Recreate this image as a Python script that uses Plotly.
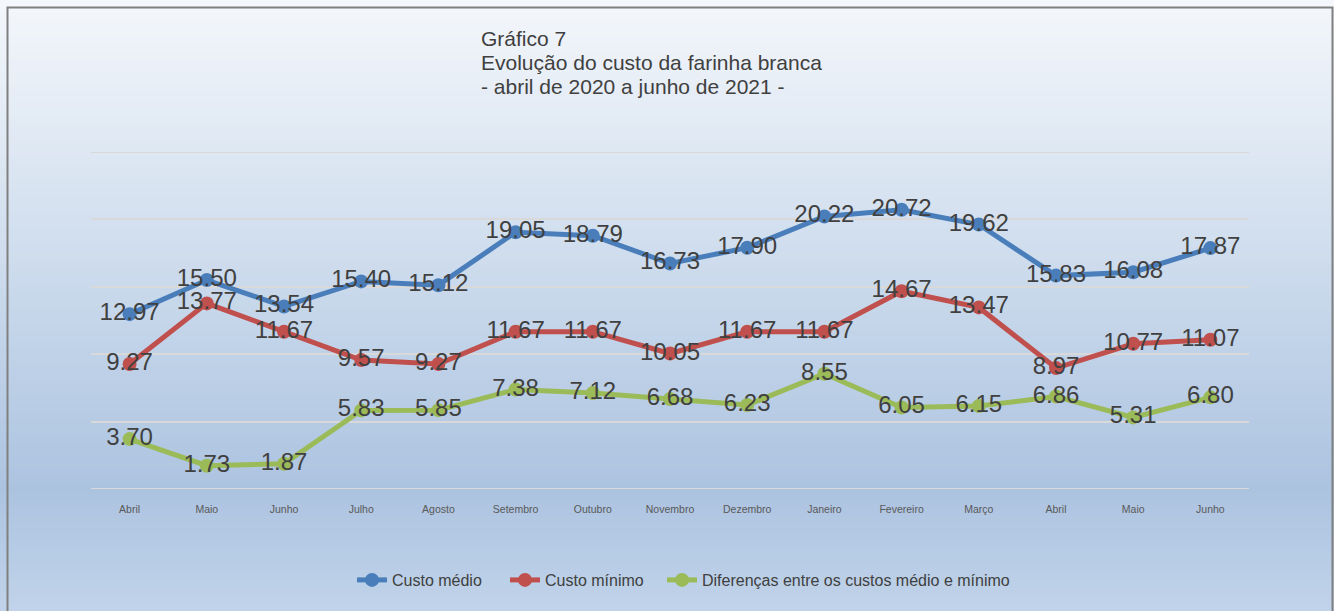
import plotly.graph_objects as go

meses = ["Abril", "Maio", "Junho", "Julho", "Agosto", "Setembro", "Outubro", "Novembro",
         "Dezembro", "Janeiro", "Fevereiro", "Março", "Abril", "Maio", "Junho"]
custo_medio = [12.97, 15.50, 13.54, 15.40, 15.12, 19.05, 18.79, 16.73, 17.90, 20.22, 20.72, 19.62, 15.83, 16.08, 17.87]
custo_minimo = [9.27, 13.77, 11.67, 9.57, 9.27, 11.67, 11.67, 10.05, 11.67, 11.67, 14.67, 13.47, 8.97, 10.77, 11.07]
diferencas = [3.70, 1.73, 1.87, 5.83, 5.85, 7.38, 7.12, 6.68, 6.23, 8.55, 6.05, 6.15, 6.86, 5.31, 6.80]
titulo = ["Gráfico 7", "Evolução do custo da farinha branca", "- abril de 2020 a junho de 2021 -"]

W, H = 1334, 611
L, R, T, B = 91, 1249, 152, 489
x_idx = list(range(len(meses)))


def px_x(p):
    return (p - L) / (R - L)


def px_y(p):
    return (B - p) / (B - T)


def lerp(c1, c2, t):
    return "rgb(%d,%d,%d)" % tuple(round(a + (b - a) * t) for a, b in zip(c1, c2))


series = [
    ("Custo médio", custo_medio, "#4a7ebb", 108),
    ("Custo mínimo", custo_minimo, "#c0504d", 112),
    ("Diferenças entre os custos médio e mínimo", diferencas, "#9bbb59", 315),
]

fig = go.Figure()
for nome, vals, cor, lw in series:
    fig.add_trace(go.Scatter(
        x=x_idx, y=vals, name=nome, mode="lines+markers", legendwidth=lw,
        line=dict(color=cor, width=5), marker=dict(color=cor, size=14),
    ))
for nome, vals, cor, lw in series:
    fig.add_trace(go.Scatter(
        x=x_idx, y=vals, mode="text", showlegend=False,
        text=["%.2f" % v for v in vals], textposition="middle center",
        textfont=dict(family="Liberation Sans, Arial", size=24, color="#404040"),
        hoverinfo="skip",
    ))

# fundo em degradê (faixas horizontais)
stops = [(0, (244, 247, 251)), (300, (200, 216, 235)), (489, (172, 195, 224)), (611, (192, 211, 234))]
shapes = []
step = 6
for y0 in range(0, H, step):
    ym = y0 + step / 2
    for (a, ca), (b, cb) in zip(stops, stops[1:]):
        if a <= ym <= b:
            col = lerp(ca, cb, (ym - a) / (b - a))
            break
    shapes.append(dict(type="rect", xref="paper", yref="paper", layer="below",
                       x0=px_x(0), x1=px_x(W), y0=px_y(y0 + step + 0.5), y1=px_y(y0),
                       fillcolor=col, line=dict(width=0)))
# linhas de grade nas bordas (0 e 25)
for yv in (0, 25):
    shapes.append(dict(type="line", xref="paper", yref="y", layer="below",
                       x0=0, x1=1, y0=yv, y1=yv, line=dict(color="#d9d9d9", width=2)))
shapes.append(dict(type="rect", xref="paper", yref="paper", layer="above",
                   x0=px_x(7.5), x1=px_x(1332.5), y0=px_y(620), y1=px_y(7.5),
                   fillcolor="rgba(0,0,0,0)", line=dict(color="#808080", width=2)))

annotations = []
for i, linha in enumerate(titulo):
    annotations.append(dict(
        text=linha, xref="paper", yref="paper", x=px_x(479), y=px_y(38 + 24.5 * i),
        xanchor="left", yanchor="middle", align="left", showarrow=False,
        font=dict(size=21, color="#404040"),
    ))

fig.update_layout(
    width=W, height=H,
    margin=dict(l=L, r=W - R, t=T, b=H - B),
    paper_bgcolor="#dfe8f3", plot_bgcolor="rgba(0,0,0,0)",
    shapes=shapes, annotations=annotations,
    font=dict(family="Liberation Sans, Arial", color="#404040"),
    showlegend=True,
    legend=dict(orientation="h", x=px_x(687), xanchor="center", y=px_y(580), yanchor="middle",
                font=dict(size=16, color="#404040"), bgcolor="rgba(0,0,0,0)",
                itemwidth=30, tracegroupgap=0),
)
fig.update_xaxes(range=[-0.5, len(meses) - 0.5], tickvals=x_idx, ticktext=meses,
                 showgrid=False, zeroline=False, showline=False,
                 ticks="outside", ticklen=10, tickcolor="rgba(0,0,0,0)",
                 tickfont=dict(size=10.5, color="#595959"))
fig.update_yaxes(range=[0, 25], dtick=5, showticklabels=False, showgrid=True,
                 gridcolor="#d9d9d9", gridwidth=2, zeroline=False)

fig.write_html("out.html", config={"displayModeBar": False},
               post_script="document.body.style.margin='0';")
